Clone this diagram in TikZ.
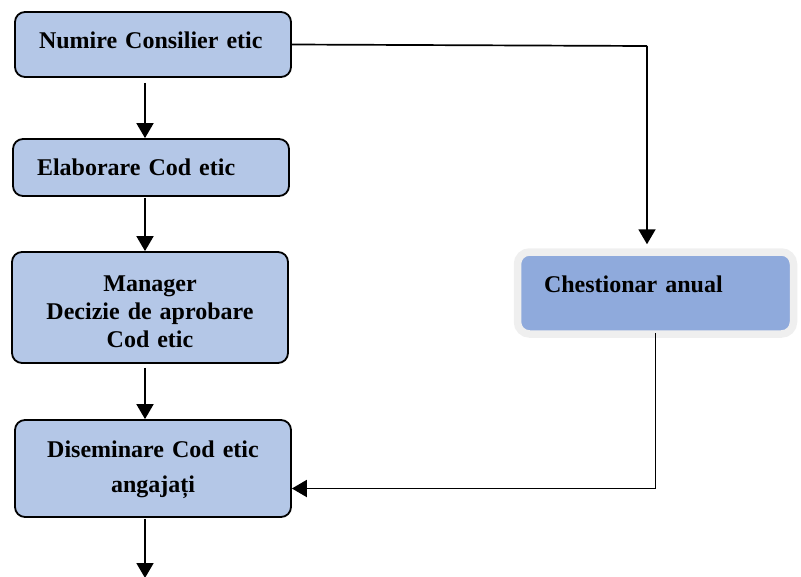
\documentclass[tikz,border=0pt]{standalone}
\usepackage{fontspec}
\setmainfont{Liberation Serif}
\usetikzlibrary{arrows.meta}
\definecolor{boxblue}{HTML}{B4C7E7}
\definecolor{chestblue}{HTML}{8FAADC}
\definecolor{ringgray}{HTML}{EFEFEF}
\begin{document}
\begin{tikzpicture}[x=1pt,y=-1pt,
  font=\fontsize{24}{28}\selectfont\bfseries,
  flowbox/.style={draw=black, line width=1.8pt, fill=boxblue, rounded corners=10pt,
    inner xsep=24pt, inner ysep=0pt, text width=228pt, minimum width=276pt},
  arr/.style={line width=1.9pt, -{Triangle[width=17pt,length=15pt]}},
  link/.style={line width=1.7pt}]
\useasboundingbox (0,0) rectangle (801,576);
\node[flowbox, align=left, minimum height=65pt, text height=17pt, text depth=9.4pt] (n1) at (153,44.5) {Numire Consilier etic};
\node[flowbox, align=left, minimum height=57pt, text height=17pt, text depth=1pt] (n2) at (151,167.5) {Elaborare Cod etic};
\node[flowbox, align=center, minimum height=111pt] (n3) at (150,307.5) {\rule{0pt}{24pt}Manager\\Decizie de aprobare\\Cod etic};
\node[flowbox, align=center, minimum height=97pt] (n4) at (153,468.5) {\rule{0pt}{20pt}Diseminare Cod etic\\[7pt]angajați};
\node[draw=ringgray, line width=7.5pt, fill=chestblue, rounded corners=12pt,
  inner xsep=26.5pt, inner ysep=0pt, text width=223pt, minimum width=276pt, minimum height=82pt,
  align=left, text height=17pt, text depth=19pt] (chest) at (655.5,293) {Chestionar anual};
\coordinate (corner1) at (647,46);
\coordinate (endb) at (145,578);
\draw[arr] ([xshift=-8pt,yshift=-5pt]n1.south) -- ([xshift=-6pt]n2.north);
\draw[arr] ([xshift=-6pt,yshift=-1pt]n2.south) -- ([xshift=-5pt]n3.north);
\draw[arr] ([xshift=-5pt,yshift=-4pt]n3.south) -- ([xshift=-8pt]n4.north);
\draw[arr] ([xshift=-8pt,yshift=-1pt]n4.south) -- (endb);
\draw[link] (n1.east) -- (corner1);
\draw[arr, shorten >=4pt] (corner1) -- (corner1 |- chest.north);
\draw[arr] ([yshift=5pt]chest.south) |- ([yshift=-20pt]n4.east);
\end{tikzpicture}
\end{document}
